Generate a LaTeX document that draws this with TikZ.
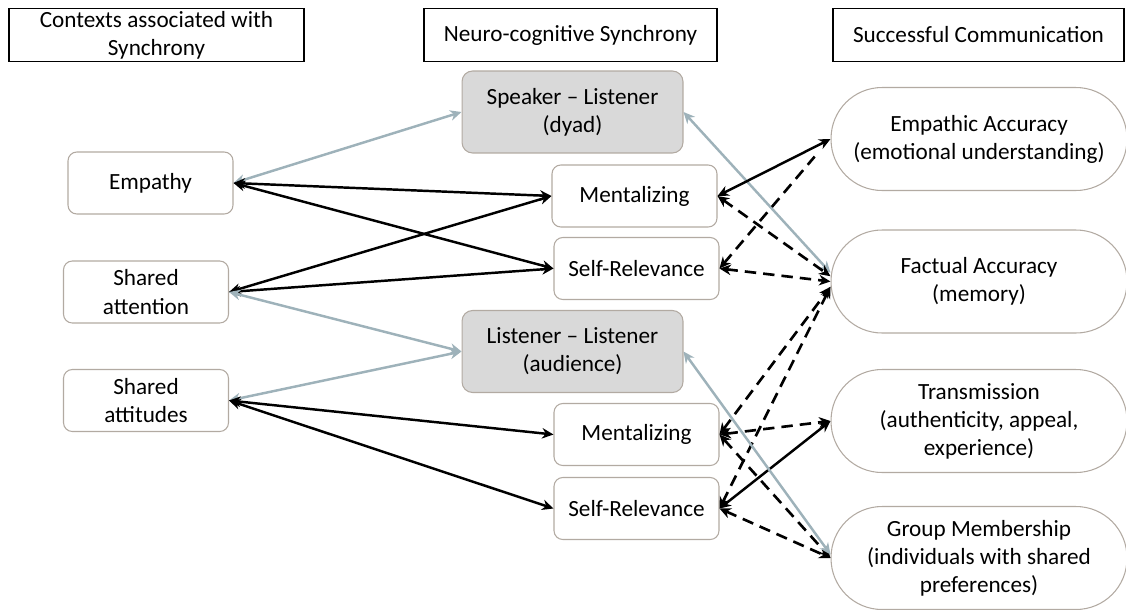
\documentclass[tikz,border=0pt]{standalone}
\usepackage{fontspec}
\setmainfont{Carlito}
\usetikzlibrary{arrows.meta}
\definecolor{edgegrey}{RGB}{178,170,162}
\definecolor{linkgrey}{RGB}{158,178,186}
\definecolor{boxfill}{RGB}{217,217,217}

\begin{document}
\begin{tikzpicture}[x=0.02cm, y=-0.02cm,
  font=\fontsize{13.2}{16}\selectfont,
  head/.style={draw, line width=0.8pt, align=center, minimum height=1.06cm, inner sep=1pt},
  ctx/.style={draw=edgegrey, line width=0.6pt, rounded corners=5pt, align=center, minimum width=3.3cm, minimum height=1.24cm, inner sep=1pt},
  sync/.style={ctx, fill=boxfill, minimum width=4.42cm, minimum height=1.64cm, rounded corners=6pt},
  outc/.style={draw=edgegrey, line width=0.6pt, rounded corners=1.02cm, align=center, minimum width=5.92cm, minimum height=2.06cm, inner sep=1pt},
  link/.style={line width=1.4pt, {Stealth[length=6.5pt,width=6pt]}-{Stealth[length=6.5pt,width=6pt]}},
  glink/.style={link, line width=1.4pt, linkgrey},
  dlink/.style={link, line width=1.5pt, dash pattern=on 6.5pt off 4pt},
]
\useasboundingbox (0,0) rectangle (1126,609);

\node[head, minimum width=5.9cm] (hctx) at (156.5,35) {Contexts associated with\\Synchrony};
\node[head, minimum width=5.86cm] (hneu) at (570.5,35) {Neuro-cognitive Synchrony};
\node[head, minimum width=5.82cm] (hcom) at (978.5,35) {Successful Communication};

\node[ctx] (emp) at (150.5,183) {Empathy};
\node[ctx] (att) at (146,292) {Shared\\attention};
\node[ctx] (atd) at (146,400.5) {Shared\\attitudes};

\node[sync] (spk) at (572.5,112) {Speaker -- Listener\\(dyad)};
\node[ctx] (men1) at (634.5,196) {Mentalizing};
\node[ctx] (srel1) at (636.5,268.5) {Self-Relevance};
\node[sync] (lis) at (572.5,351.5) {Listener -- Listener\\(audience)};
\node[ctx] (men2) at (636.5,434.5) {Mentalizing};
\node[ctx] (srel2) at (636.5,508.5) {Self-Relevance};

\node[outc] (empa) at (979,139) {Empathic Accuracy\\(emotional understanding)};
\node[outc] (fac) at (979,281.5) {Factual Accuracy\\(memory)};
\node[outc] (trans) at (979,421) {Transmission\\(authenticity, appeal,\\experience)};
\node[outc] (grp) at (979,558) {Group Membership\\(individuals with shared\\preferences)};

\draw[glink](emp.east) -- (spk.west);
\draw[link](emp.east) -- (men1.west);
\draw[link](emp.east) -- (srel1.west);
\draw[link](att.east) -- (men1.west);
\draw[link](att.east) -- (srel1.west);
\draw[glink](att.east) -- (lis.west);
\draw[glink](atd.east) -- (lis.west);
\draw[link](atd.east) -- (men2.west);
\draw[link](atd.east) -- (srel2.west);

\draw[glink](spk.east) -- ([yshift=5pt]fac.west);
\draw[link](men1.east) -- (empa.west);
\draw[dlink](men1.east) -- ([yshift=3pt]fac.west);
\draw[dlink, {Stealth[length=6.5pt,width=6pt]}-](srel1.east) -- ([shift={(-9pt,-10pt)}]empa.west);
\draw[dlink](srel1.east) -- (fac.west);
\draw[dlink](men2.east) -- ([yshift=-3pt]fac.west);
\draw[dlink](srel2.east) -- ([yshift=-3pt]fac.west);
\draw[dlink](men2.east) -- (trans.west);
\draw[link](srel2.east) -- (trans.west);
\draw[dlink](men2.east) -- (grp.west);
\draw[dlink](srel2.east) -- (grp.west);
\draw[glink](lis.east) -- ([yshift=2pt]grp.west);

\end{tikzpicture}
\end{document}
